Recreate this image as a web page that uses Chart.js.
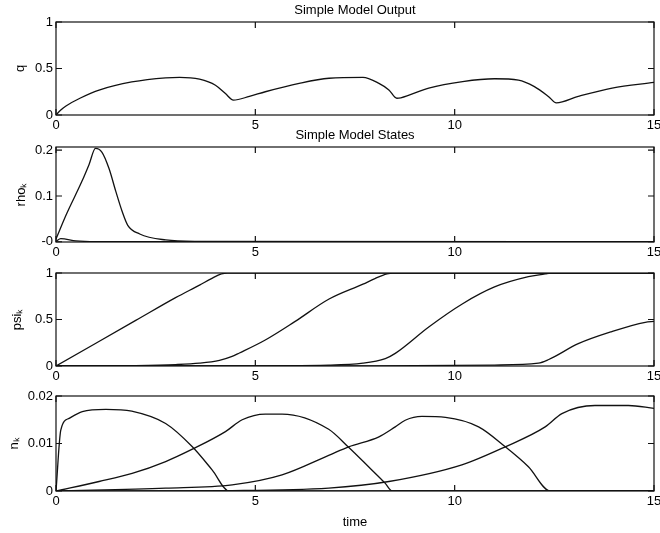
<!DOCTYPE html>
<html>
<head>
<meta charset="utf-8">
<script src="https://cdn.jsdelivr.net/npm/chart.js@4/dist/chart.umd.min.js"></script>
<style>
  html, body { margin: 0; padding: 0; background: #fff; }
  #wrap { position: relative; width: 660px; height: 533px; overflow: hidden; }
  #wrap canvas { position: absolute; left: 0; }
</style>
</head>
<body>
<div id="wrap">
  <canvas id="qChart" width="660" height="135" style="top:0px"></canvas>
  <canvas id="rhoChart" width="660" height="137" style="top:125px"></canvas>
  <canvas id="psiChart" width="660" height="133" style="top:253px"></canvas>
  <canvas id="nChart" width="660" height="157" style="top:376px"></canvas>
</div>
<script>
// x axis (time) ticks, shared by all panels
const xTicks = [0, 5, 10, 15];

// Output q
const qTime = [0, 0.12, 0.25, 0.6, 1.1, 1.9, 2.75, 3.1, 3.6, 4.0, 4.25, 4.45, 4.85, 5.25, 6.1, 6.85, 7.7, 8.1, 8.35, 8.55, 8.65, 9.35, 10.2, 11.0, 11.6, 12.0, 12.35, 12.55, 13.1, 13.95, 15];
const qValues = [0, 0.054, 0.097, 0.18, 0.27, 0.355, 0.40, 0.405, 0.385, 0.32, 0.23, 0.16, 0.2, 0.25, 0.34, 0.395, 0.405, 0.34, 0.27, 0.18, 0.185, 0.29, 0.36, 0.39, 0.375, 0.305, 0.2, 0.13, 0.2, 0.29, 0.35];
const qTicks = [0, 0.5, 1];
const qTickLabels = ['0', '0.5', '1'];

// States rho_k
const rho1Time = [0, 0.25, 0.65, 0.83, 0.99, 1.15, 1.33, 1.5, 1.66, 1.8, 2.1, 2.75, 3.5, 15];
const rho1Values = [0.006, 0.058, 0.132, 0.169, 0.204, 0.196, 0.16, 0.11, 0.066, 0.036, 0.017, 0.004, 0.001, 0];
const rho2Time = [0, 0.12, 0.5, 1.0, 15];
const rho2Values = [0.001, 0.007, 0.002, 0.0005, 0.0005];
const rhoTicks = [0, 0.1, 0.2];
const rhoTickLabels = ['-0', '0.1', '0.2'];

// States psi_k
const psi1Time = [0, 1, 2, 3, 3.6, 3.9, 4.15, 4.3, 15];
const psi1Values = [0, 0.245, 0.49, 0.735, 0.87, 0.94, 0.99, 1, 1];
const psi2Time = [0, 2, 3, 3.6, 4.1, 4.4, 4.6, 5.25, 6, 6.85, 7.7, 8.0, 8.3, 8.45, 15];
const psi2Values = [0, 0.005, 0.015, 0.03, 0.06, 0.1, 0.14, 0.28, 0.48, 0.72, 0.88, 0.94, 0.99, 1, 1];
const psi3Time = [0, 4, 6.85, 7.7, 8.26, 8.51, 9.35, 10.2, 11.0, 11.85, 12.27, 12.4, 15];
const psi3Values = [0, 0.002, 0.01, 0.03, 0.08, 0.136, 0.42, 0.67, 0.85, 0.96, 0.99, 1, 1];
const psi4Time = [0, 8, 11, 12.1, 12.36, 13.1, 13.94, 14.78, 15];
const psi4Values = [0, 0.002, 0.01, 0.03, 0.07, 0.24, 0.37, 0.47, 0.48];
const psiTicks = [0, 0.5, 1];
const psiTickLabels = ['0', '0.5', '1'];

// States n_k
const n1Time = [0, 0.12, 0.33, 0.66, 1.25, 1.9, 2.75, 3.42, 3.92, 4.34, 15];
const n1Values = [0, 0.0128, 0.0153, 0.0167, 0.0172, 0.0168, 0.0142, 0.0093, 0.0044, 0, 0];
const n2Time = [0, 1.08, 1.91, 2.75, 3.42, 4.25, 4.67, 5.25, 5.67, 6.84, 7.34, 7.84, 8.26, 8.43, 15];
const n2Values = [0, 0.002, 0.0037, 0.0062, 0.0088, 0.0125, 0.015, 0.0162, 0.0162, 0.013, 0.0092, 0.0051, 0.0016, 0, 0];
const n3Time = [0, 2.75, 4.42, 5.67, 6.84, 7.34, 8.1, 8.51, 8.76, 9.18, 9.77, 10.6, 11.27, 11.85, 12.4, 15];
const n3Values = [0, 0.0006, 0.0013, 0.0034, 0.0075, 0.0093, 0.0114, 0.0135, 0.0149, 0.0157, 0.0155, 0.0135, 0.0093, 0.0051, 0, 0];
const n4Time = [0, 4.42, 6.84, 8.35, 10.18, 11.27, 12.27, 12.69, 13.52, 14.36, 15];
const n4Values = [0, 0.0001, 0.0006, 0.002, 0.0055, 0.0093, 0.0135, 0.0163, 0.018, 0.018, 0.0174];
const nTicks = [0, 0.01, 0.02];
const nTickLabels = ['0', '0.01', '0.02'];

const FONT = '"Liberation Sans", Arial, Helvetica, sans-serif';
const INK = '#111';

function pairs(t, v) {
  return t.map((x, i) => ({ x: x, y: v[i] }));
}

// box round the axes with inward ticks on all four sides
const matlabAxes = {
  id: 'matlabAxes',
  afterDraw(chart) {
    const { ctx, chartArea: a, scales } = chart;
    const len = 6;
    ctx.save();
    ctx.strokeStyle = INK;
    ctx.lineWidth = 1.2;
    ctx.strokeRect(a.left, a.top, a.width, a.height);
    ctx.beginPath();
    scales.x.ticks.forEach(t => {
      const px = scales.x.getPixelForValue(t.value);
      ctx.moveTo(px, a.bottom); ctx.lineTo(px, a.bottom - len);
      ctx.moveTo(px, a.top); ctx.lineTo(px, a.top + len);
    });
    scales.y.ticks.forEach(t => {
      const py = scales.y.getPixelForValue(t.value);
      ctx.moveTo(a.left, py); ctx.lineTo(a.left + len, py);
      ctx.moveTo(a.right, py); ctx.lineTo(a.right - len, py);
    });
    ctx.stroke();
    ctx.restore();
  }
};

function makePanel(id, opts) {
  const datasets = opts.series.map(s => ({
    data: pairs(s[0], s[1]),
    borderColor: INK,
    borderWidth: 1.3,
    pointRadius: 0,
    fill: false,
    cubicInterpolationMode: 'monotone'
  }));

  return new Chart(document.getElementById(id), {
    type: 'line',
    data: { datasets: datasets },
    options: {
      responsive: false,
      animation: false,
      events: [],
      layout: { padding: { top: opts.padTop, left: 0, right: 6, bottom: 0 } },
      plugins: {
        legend: { display: false },
        tooltip: { enabled: false },
        title: {
          display: !!opts.title,
          text: opts.title || '',
          fullSize: false,
          color: '#000',
          font: { family: FONT, size: 13, weight: 'normal' },
          padding: { top: 2.2, bottom: 4.2 }
        }
      },
      scales: {
        x: {
          type: 'linear',
          min: 0,
          max: 15,
          afterBuildTicks: s => { s.ticks = xTicks.map(v => ({ value: v })); },
          afterFit: s => { s.height = opts.xHeight; s.paddingLeft = 0; s.paddingRight = 0; },
          ticks: { color: '#000', font: { family: FONT, size: 13 }, padding: 3, autoSkip: false, maxRotation: 0 },
          grid: { display: false, drawTicks: false },
          border: { display: false },
          title: {
            display: !!opts.xTitle,
            text: opts.xTitle || '',
            color: '#000',
            font: { family: FONT, size: 13 },
            padding: { top: 0, bottom: 3.2 }
          }
        },
        y: {
          type: 'linear',
          min: opts.yMin,
          max: opts.yMax,
          afterBuildTicks: s => { s.ticks = opts.yTicks.map(v => ({ value: v })); },
          afterFit: s => { s.width = 56; },
          ticks: {
            color: '#000',
            font: { family: FONT, size: 13 },
            padding: 3,
            callback: (v, i) => opts.yLabels[i]
          },
          grid: { display: false, drawTicks: false },
          border: { display: false },
          title: {
            display: true,
            text: opts.yTitle,
            color: '#000',
            font: { family: FONT, size: 13 },
            padding: { top: opts.yTitlePad, bottom: 0 }
          }
        }
      }
    },
    plugins: [matlabAxes]
  });
}

makePanel('qChart', {
  title: 'Simple Model Output',
  padTop: 0, xHeight: 20,
  yMin: 0, yMax: 1, yTicks: qTicks, yLabels: qTickLabels,
  yTitle: 'q', yTitlePad: 13,
  series: [[qTime, qValues]]
});

makePanel('rhoChart', {
  title: 'Simple Model States',
  padTop: 0, xHeight: 20,
  yMin: -0.0005, yMax: 0.207, yTicks: rhoTicks, yLabels: rhoTickLabels,
  yTitle: 'rhoₖ', yTitlePad: 14,
  series: [[rho1Time, rho1Values], [rho2Time, rho2Values]]
});

makePanel('psiChart', {
  padTop: 20, xHeight: 20,
  yMin: 0, yMax: 1, yTicks: psiTicks, yLabels: psiTickLabels,
  yTitle: 'psiₖ', yTitlePad: 10,
  series: [[psi1Time, psi1Values], [psi2Time, psi2Values], [psi3Time, psi3Values], [psi4Time, psi4Values]]
});

makePanel('nChart', {
  padTop: 20, xHeight: 42, xTitle: 'time',
  yMin: 0, yMax: 0.02, yTicks: nTicks, yLabels: nTickLabels,
  yTitle: 'nₖ', yTitlePad: 7,
  series: [[n1Time, n1Values], [n2Time, n2Values], [n3Time, n3Values], [n4Time, n4Values]]
});
</script>
</body>
</html>
